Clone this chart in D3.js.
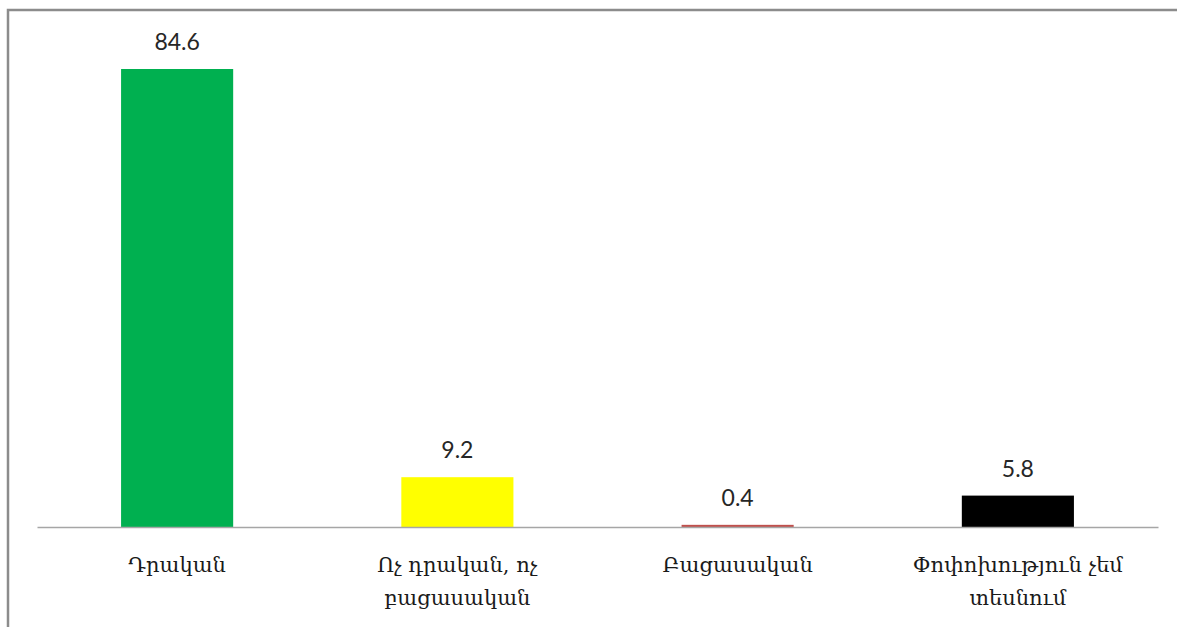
<!DOCTYPE html>
<html><head><meta charset="utf-8">
<script src="https://cdn.jsdelivr.net/npm/d3@7"></script>
<style>body{margin:0;background:#fff;}svg{display:block;}</style>
</head><body>
<svg id="c" width="1177" height="627"></svg>
<script>
const categories = ["Դրական", "Ոչ դրական, ոչ բացասական", "Բացասական", "Փոփոխություն չեմ տեսնում"];
const labelLines = [["Դրական"], ["Ոչ դրական, ոչ", "բացասական"], ["Բացասական"], ["Փոփոխություն չեմ", "տեսնում"]];
const values = [84.6, 9.2, 0.4, 5.8];
const colors = ["#00b050", "#ffff00", "#c0504d", "#000000"];

const svg = d3.select("#c");
// frame
svg.append("rect").attr("x", 8).attr("y", 10).attr("width", 1200).attr("height", 700)
  .attr("fill", "none").attr("stroke", "#8c8c8c").attr("stroke-width", 2.5);

const x = d3.scaleBand().domain(categories).range([37, 1158]).paddingInner(0.6).paddingOuter(0.3);
const y = d3.scaleLinear().domain([0, 84.6]).range([527, 69]);

svg.selectAll("rect.bar").data(values).enter().append("rect")
  .attr("class", "bar")
  .attr("x", (d, i) => x(categories[i]))
  .attr("width", x.bandwidth())
  .attr("y", d => y(d))
  .attr("height", d => y(0) - y(d))
  .attr("fill", (d, i) => colors[i]);

// axis line
const xAxis = d3.axisBottom(x).tickSize(0).tickFormat("");
const ax = svg.append("g").attr("transform", `translate(0,${y(0)})`).call(xAxis);
ax.select(".domain").attr("stroke", "#a6a6a6").attr("stroke-width", 1.3);

// value labels
svg.selectAll("text.val").data(values).enter().append("text")
  .attr("class", "val")
  .attr("x", (d, i) => x(categories[i]) + x.bandwidth() / 2)
  .attr("y", d => y(d) - 19)
  .attr("text-anchor", "middle")
  .attr("font-family", "Lato, 'Open Sans', sans-serif")
  .attr("font-size", 23)
  .attr("fill", "#262626")
  .text(d => d.toFixed(1));

// category labels
const cat = svg.selectAll("text.cat").data(categories).enter().append("text")
  .attr("class", "cat")
  .attr("text-anchor", "middle")
  .attr("font-family", "'DejaVu Serif', serif")
  .attr("font-size", 21)
  .attr("fill", "#1a1a1a");
cat.each(function(d, i) {
  const t = d3.select(this);
  labelLines[i].forEach((ln, j) => {
    t.append("tspan").attr("x", x(d) + x.bandwidth() / 2).attr("y", 572 + j * 33).text(ln);
  });
});
</script>
</body></html>
